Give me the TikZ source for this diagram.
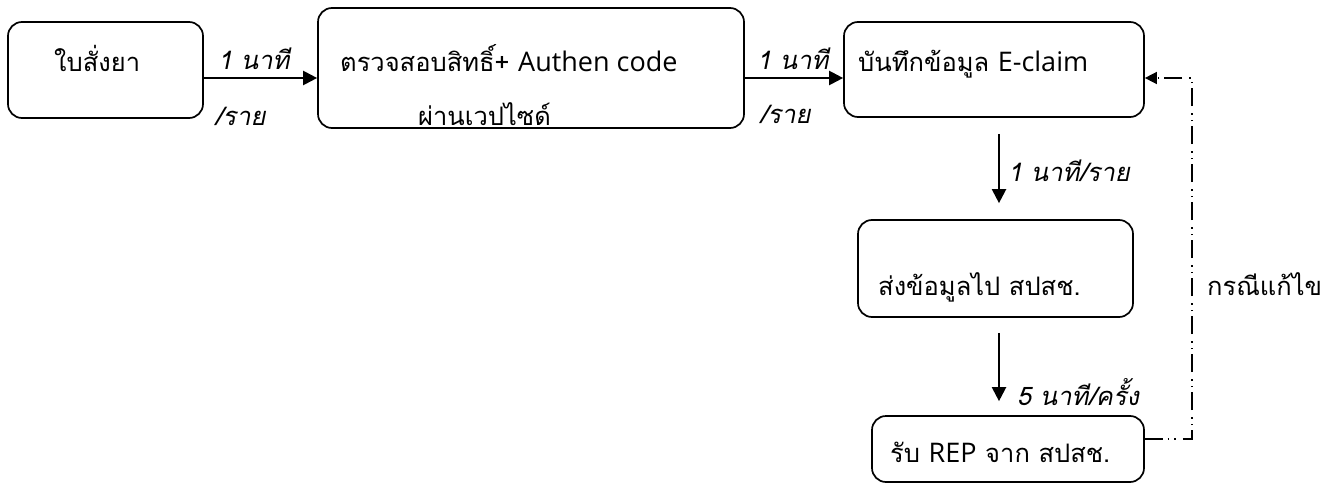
\documentclass[tikz,border=0pt]{standalone}
\usepackage{fontspec}
\setmainfont[Script=Thai]{Loma}
\newfontfamily\thaiit[Script=Thai,FakeSlant=0.2]{Loma}
\newfontfamily\latfont{Open Sans}
\newcommand{\lat}[1]{{\latfont\fontsize{27}{30}\selectfont #1}}
\usetikzlibrary{arrows.meta}
\tikzset{
  box/.style={draw, line width=1.7pt, rounded corners=14pt, inner sep=0pt},
  conn/.style={-{Triangle[length=14pt,width=14pt]}, line width=2.2pt},
  fb/.style={-{Triangle[length=12pt,width=12pt]}, line width=1.5pt,
     dash pattern=on 18pt off 5pt on 1.5pt off 5pt on 1.5pt off 7pt},
  txt/.style={font=\fontsize{25.5}{30}\selectfont, inner sep=0pt, anchor=base west},
  lbl/.style={font=\thaiit\fontsize{25.5}{30}\selectfont, inner sep=0pt, anchor=base west}
}
\begin{document}
\begin{tikzpicture}[x=1pt,y=-1pt]
\useasboundingbox (0,0) rectangle (1336,484);
% boxes
\node[box, minimum width=195pt, minimum height=96pt] (b1) at (105.5,70) {};
\node[box, minimum width=426pt, minimum height=120pt] (b2) at (531,68) {};
\node[box, minimum width=300pt, minimum height=95pt] (b3) at (994,69.5) {};
\node[box, minimum width=275pt, minimum height=97pt] (b4) at (995.5,268.5) {};
\node[box, minimum width=272pt, minimum height=66pt] (b5) at (1008,449) {};
% box texts
\node[txt] (t1) at (54,72) {ใบสั่งยา};
\node[txt] (t2) at (340,72) {ตรวจสอบสิทธิ์+ \lat{Authen code}};
\node[txt] (t2b) at (418,126) {ผ่านเวปไซด์};
\node[txt] (t3) at (858,72) {บันทึกข้อมูล \lat{E-claim}};
\node[txt] (t4) at (878,295) {ส่งข้อมูลไป สปสช.};
\node[txt] (t5) at (890,462) {รับ \lat{REP} จาก สปสช.};
\node[txt] (t6) at (1207,295) {กรณีแก้ไข};
% labels
\node[lbl] (l1a) at (218,70) {1 นาที};
\node[lbl] (l1b) at (215,126) {/ราย};
\node[lbl] (l2a) at (757,70) {1 นาที};
\node[lbl] (l2b) at (760,124) {/ราย};
\node[lbl] (l3) at (1008,182) {1 นาที/ราย};
\node[lbl] (l4) at (1017,405) {5 นาที/ครั้ง};
% connectors
\draw[conn] (b1.east |- 0,78) -- (b2.west |- 0,78);
\draw[conn] (b2.east |- 0,78) -- (b3.west |- 0,78);
\draw[conn, shorten <=16pt, shorten >=16pt] (b3.south -| 999,0) -- (b4.north -| 999,0);
\draw[conn, shorten <=15pt, shorten >=14pt] (b4.south -| 999,0) -- (b5.north -| 999,0);
\coordinate (c1) at (1192,439);
\coordinate (c2) at (1192,78);
\draw[fb] (b5.east |- c1) -- (c1) -- (c2) -- (b3.east |- c2);
\end{tikzpicture}
\end{document}
